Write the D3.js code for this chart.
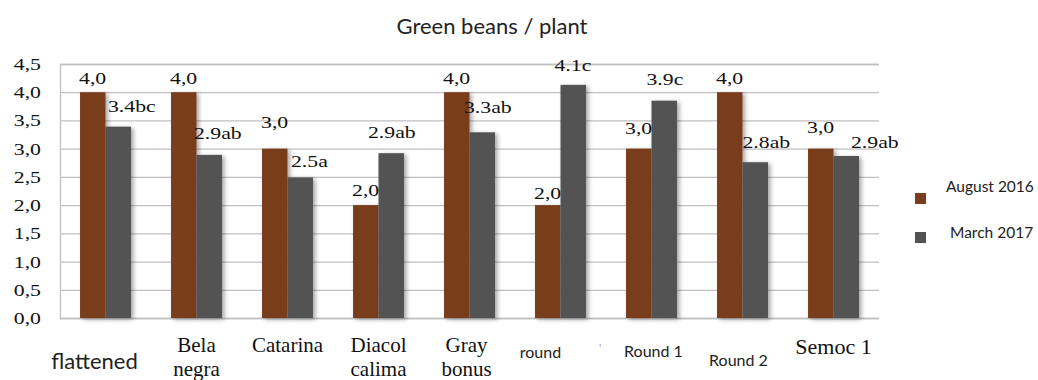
<!DOCTYPE html>
<html>
<head>
<meta charset="utf-8">
<script src="https://cdn.jsdelivr.net/npm/d3@7"></script>
<style>
  html, body { margin: 0; padding: 0; background: #fff; }
  svg { display: block; }
</style>
</head>
<body>
<svg id="chart" width="1038" height="380"></svg>
<script>
// ---- data ----
const categories = ["flattened", "Bela negra", "Catarina", "Diacol calima", "Gray bonus", "round", "Round 1", "Round 2", "Semoc 1"];
const august2016 = [4.0, 4.0, 3.0, 2.0, 4.0, 2.0, 3.0, 4.0, 3.0];
const march2017 = [3.39, 2.89, 2.49, 2.92, 3.29, 4.13, 3.85, 2.76, 2.87];
const augustLabels = ["4,0", "4,0", "3,0", "2,0", "4,0", "2,0", "3,0", "4,0", "3,0"];
const marchLabels = ["3.4bc", "2.9ab", "2.5a", "2.9ab", "3.3ab", "4.1c", "3.9c", "2.8ab", "2.9ab"];
const seriesNames = ["August 2016", "March 2017"];
const yTickValues = [0, 0.5, 1.0, 1.5, 2.0, 2.5, 3.0, 3.5, 4.0, 4.5];
const title = "Green beans / plant";

// ---- layout (label nudges, not data) ----
const augLabelGap = [8, 8, 21, 9, 8, 6, 15, 8, 16];
const marLabelDx = [2.5, -2.5, 3.5, -10.5, -5.5, -6, -5, 0, 17.5];
const marLabelGap = [15, 16, 10, 15.5, 19, 14, 16, 14, 8];
const xLabelStyle = [
  { sans: true,  size: 22, y: 369, dx: -11, wrap: false },
  { sans: false, size: 21, y: 352, dx: 0,   wrap: true },
  { sans: false, size: 21, y: 352, dx: 0,   wrap: false },
  { sans: false, size: 21, y: 352, dx: 0,   wrap: true },
  { sans: false, size: 21, y: 352, dx: -3,  wrap: true },
  { sans: true,  size: 16, y: 358, dx: -20, wrap: false },
  { sans: true,  size: 16, y: 357, dx: 2,   wrap: false },
  { sans: true,  size: 16, y: 366, dx: -4,  wrap: false },
  { sans: false, size: 22, y: 354, dx: 0,   wrap: false }
];

const colors = ["#7a3e1e", "#535353"];
const serif = "'Liberation Serif', 'Times New Roman', serif";
const sans = "Lato, 'Open Sans', sans-serif";
const stretch = 1.28;

const svg = d3.select("#chart");
const x0 = 60, x1 = 879, yTop = 64, yBot = 318;

const defs = svg.append("defs");
const f = defs.append("filter").attr("id", "shadow")
  .attr("x", "-30%").attr("y", "-10%").attr("width", "160%").attr("height", "120%");
f.append("feDropShadow").attr("dx", 2.5).attr("dy", 1.5).attr("stdDeviation", 2)
  .attr("flood-color", "#000").attr("flood-opacity", 0.35);

const x = d3.scaleBand().domain(categories).range([x0, x1]).paddingInner(0.44).paddingOuter(0.22);
const xs = d3.scaleBand().domain([0, 1]).range([0, x.bandwidth()]);
const y = d3.scaleLinear().domain([0, 4.5]).range([yBot, yTop]);

// title
svg.append("text").attr("x", 492).attr("y", 34).attr("text-anchor", "middle")
  .style("font-family", sans).style("font-size", "22px").attr("fill", "#222").text(title);

// gridlines
const yAxis = d3.axisLeft(y).tickValues(yTickValues).tickSize(-(x1 - x0)).tickFormat("");
const gAxis = svg.append("g").attr("transform", `translate(${x0},0)`).call(yAxis);
gAxis.select(".domain").attr("stroke", "#bfbfbf").attr("stroke-width", 1.3);
gAxis.selectAll(".tick line").attr("stroke", "#c0c0c0").attr("stroke-width", 1.3);

// tick labels (stretched serif)
svg.append("g").selectAll("text").data(yTickValues).join("text")
  .attr("transform", d => `translate(41,${y(d) + 6}) scale(${stretch},1)`)
  .attr("text-anchor", "end")
  .style("font-family", serif).style("font-size", "17px").attr("fill", "#111")
  .text(d => d3.format(".1f")(d).replace(".", ","));

// bars
const series = [august2016, march2017];
const gBars = svg.append("g");
series.forEach((vals, si) => {
  gBars.selectAll(null).data(vals).join("rect")
    .attr("x", (d, i) => x(categories[i]) + xs(si))
    .attr("width", xs.bandwidth())
    .attr("y", d => y(d))
    .attr("height", d => y(0) - y(d))
    .attr("fill", colors[si])
    .attr("filter", "url(#shadow)");
});

// value labels
const gLab = svg.append("g").style("font-family", serif).style("font-size", "17px").attr("fill", "#111");
gLab.selectAll(null).data(august2016).join("text")
  .attr("transform", (d, i) => `translate(${x(categories[i]) + xs(0) - 1},${y(d) - augLabelGap[i]}) scale(${stretch},1)`)
  .text((d, i) => augustLabels[i]);
gLab.selectAll(null).data(march2017).join("text")
  .attr("transform", (d, i) => `translate(${x(categories[i]) + xs(1) + marLabelDx[i]},${y(d) - marLabelGap[i]}) scale(${stretch},1)`)
  .text((d, i) => marchLabels[i]);

// x labels
const gX = svg.append("g").attr("fill", "#111");
categories.forEach((c, i) => {
  const st = xLabelStyle[i];
  const cx = x(c) + x.bandwidth() / 2 + st.dx;
  const t = gX.append("text").attr("text-anchor", "middle")
    .style("font-family", st.sans ? sans : serif).style("font-size", st.size + "px")
    .attr("fill", st.sans ? "#222" : "#111");
  const lines = st.wrap ? c.split(" ") : [c];
  lines.forEach((ln, k) => {
    t.append("tspan").attr("x", cx).attr("y", st.y + k * 24).text(ln);
  });
});
// stray tick mark seen in the original
gX.append("text").attr("x", 599).attr("y", 352).style("font-family", sans)
  .style("font-size", "11px").attr("fill", "#999").text("'");

// legend
const legY = [192, 238];
const gLeg = svg.append("g");
seriesNames.forEach((s, i) => {
  gLeg.append("rect").attr("x", 915).attr("y", i === 0 ? 193 : 232).attr("width", 11).attr("height", 11)
    .attr("fill", colors[i]);
  gLeg.append("text").attr("x", i === 0 ? 946 : 950).attr("y", legY[i])
    .style("font-family", sans).style("font-size", "15.5px").attr("fill", "#222").text(s);
});
</script>
</body>
</html>
